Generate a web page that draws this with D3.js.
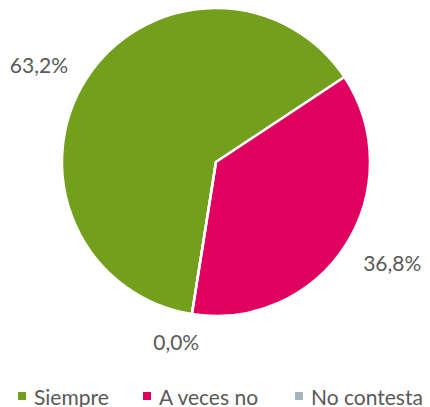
<!DOCTYPE html>
<html>
<head>
<meta charset="utf-8">
<script src="https://cdn.jsdelivr.net/npm/d3@7"></script>
<style>
  body { margin: 0; background: #fff; }
  text { font-family: Lato, "Open Sans", sans-serif; }
</style>
</head>
<body>
<svg id="chart" width="430" height="407"></svg>
<script>
// Data
const categories = ["Siempre", "A veces no", "No contesta"];
const values = [63.2, 36.8, 0.0];
const labels = ["63,2%", "36,8%", "0,0%"];
const colors = ["#72a01c", "#e0005f", "#a5b4bd"];

const svg = d3.select("#chart");
const cx = 216, cy = 162, r = 154;

// first slice starts a bit past the bottom, like in the original
const startAngle = 189 * Math.PI / 180;

const pie = d3.pie().sort(null)
  .startAngle(startAngle)
  .endAngle(startAngle + 2 * Math.PI)
  .value(d => d);

const arcs = pie(values);
const arc = d3.arc().innerRadius(0).outerRadius(r);

const g = svg.append("g").attr("transform", `translate(${cx},${cy})`);

// ---------------- SLICES ----------------
g.selectAll("path")
  .data(arcs)
  .join("path")
  .attr("d", arc)
  .attr("fill", (d, i) => colors[i])
  .attr("stroke", "#fff")
  .attr("stroke-width", 2.5)
  .attr("stroke-linejoin", "round");

// ---------------- LABELS ----------------
// label layout: distance from centre and small angle nudge (degrees)
const labelRadius = [202, 203, 184];
const labelNudge = [-4, -3, 3.5];
g.selectAll("text.lbl")
  .data(arcs)
  .join("text")
  .attr("class", "lbl")
  .attr("x", (d, i) => {
    const a = (d.startAngle + d.endAngle) / 2 + labelNudge[i] * Math.PI / 180;
    return Math.sin(a) * labelRadius[i];
  })
  .attr("y", (d, i) => {
    const a = (d.startAngle + d.endAngle) / 2 + labelNudge[i] * Math.PI / 180;
    return -Math.cos(a) * labelRadius[i];
  })
  .attr("text-anchor", "middle")
  .attr("dominant-baseline", "central")
  .attr("font-size", 21)
  .attr("fill", "#595959")
  .text((d, i) => labels[i]);

// ---------------- LEGEND ----------------
const legendX = [18, 143, 295];
const legend = svg.append("g").attr("transform", "translate(0,396)");
categories.forEach((c, i) => {
  legend.append("rect")
    .attr("x", legendX[i])
    .attr("y", -4)
    .attr("width", 8)
    .attr("height", 8)
    .attr("fill", colors[i]);
  legend.append("text")
    .attr("x", legendX[i] + 16)
    .attr("y", 0)
    .attr("dominant-baseline", "central")
    .attr("font-size", 21)
    .attr("fill", "#595959")
    .text(c);
});
</script>
</body>
</html>
